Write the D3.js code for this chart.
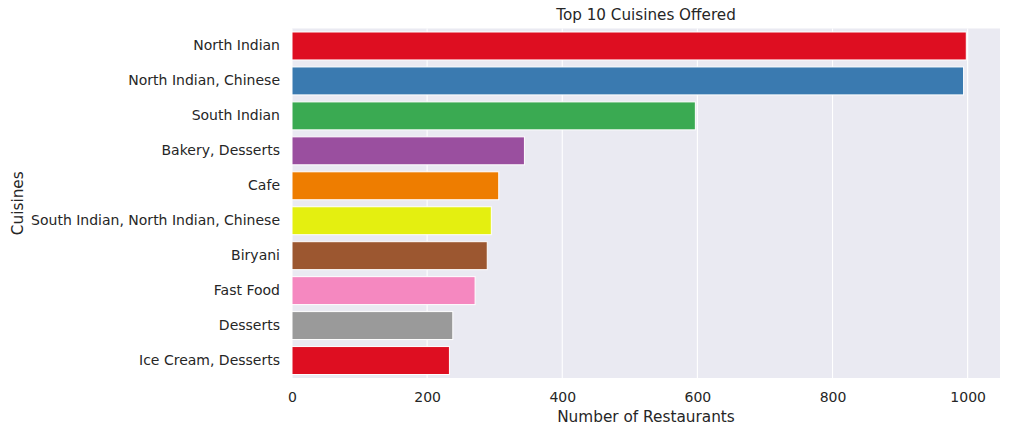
<!DOCTYPE html>
<html>
<head>
<meta charset="utf-8">
<script src="https://cdn.jsdelivr.net/npm/d3@7"></script>
<style>
  body { margin: 0; background: #fff; }
  svg { font-family: "DejaVu Sans", sans-serif; }
</style>
</head>
<body>
<div class="chart"></div>
<script>
const cuisines = [
  "North Indian",
  "North Indian, Chinese",
  "South Indian",
  "Bakery, Desserts",
  "Cafe",
  "South Indian, North Indian, Chinese",
  "Biryani",
  "Fast Food",
  "Desserts",
  "Ice Cream, Desserts"
];
const counts = [998, 994, 597, 344, 306, 295, 289, 271, 238, 233];
const barColors = [
  "#de0e21", "#3a7ab0", "#3aaa52", "#9a4f9f", "#ee7d00",
  "#e4ef10", "#9c5730", "#f588c0", "#9a9a9a", "#de0e21"
];
const xTicks = [0, 200, 400, 600, 800, 1000];

const W = 1014, H = 433;
const margin = { top: 28.5, right: 14, left: 292, bottom: 55 };
const width = W - margin.left - margin.right;
const height = H - margin.top - margin.bottom;

const data = cuisines.map((c, i) => ({ name: c, value: counts[i], color: barColors[i] }));

const xScale = d3.scaleLinear()
  .domain([0, d3.max(counts) * 1.05])
  .range([0, width]);

const yScale = d3.scaleBand()
  .domain(cuisines)
  .range([0, height])
  .paddingInner(0.2)
  .paddingOuter(0.1);

const svg = d3.select(".chart")
  .append("svg")
  .attr("width", W)
  .attr("height", H);

const g = svg.append("g")
  .attr("transform", `translate(${margin.left},${margin.top})`);

g.append("rect")
  .attr("width", width)
  .attr("height", height)
  .attr("fill", "#eaeaf2");

// vertical grid
g.append("g")
  .selectAll("line")
  .data(xTicks)
  .join("line")
  .attr("x1", d => xScale(d))
  .attr("x2", d => xScale(d))
  .attr("y1", 0)
  .attr("y2", height)
  .attr("stroke", "#fff")
  .attr("stroke-width", 1.1);

g.append("g")
  .selectAll("rect")
  .data(data)
  .join("rect")
  .attr("x", 0)
  .attr("y", d => yScale(d.name))
  .attr("width", d => xScale(d.value))
  .attr("height", yScale.bandwidth())
  .attr("fill", d => d.color)
  .attr("stroke", "#fff")
  .attr("stroke-width", 1);

const xAxis = g.append("g")
  .attr("transform", `translate(0,${height})`)
  .call(d3.axisBottom(xScale).tickValues(xTicks).tickFormat(d3.format("d")).tickSize(0).tickPadding(14));
xAxis.select(".domain").remove();
xAxis.selectAll("text").attr("font-size", 14).attr("fill", "#262626").attr("font-family", "DejaVu Sans");

const yAxis = g.append("g")
  .call(d3.axisLeft(yScale).tickSize(0).tickPadding(12));
yAxis.select(".domain").remove();
yAxis.selectAll("text").attr("font-size", 14).attr("fill", "#262626").attr("font-family", "DejaVu Sans");

svg.append("text")
  .attr("x", margin.left + width / 2)
  .attr("y", 20)
  .attr("text-anchor", "middle")
  .attr("font-size", 15.2)
  .attr("fill", "#262626")
  .text("Top 10 Cuisines Offered");

svg.append("text")
  .attr("x", margin.left + width / 2)
  .attr("y", 422)
  .attr("text-anchor", "middle")
  .attr("font-size", 15.3)
  .attr("fill", "#262626")
  .text("Number of Restaurants");

svg.append("text")
  .attr("transform", `translate(23,${margin.top + height / 2}) rotate(-90)`)
  .attr("text-anchor", "middle")
  .attr("font-size", 15.3)
  .attr("fill", "#262626")
  .text("Cuisines");
</script>
</body>
</html>
